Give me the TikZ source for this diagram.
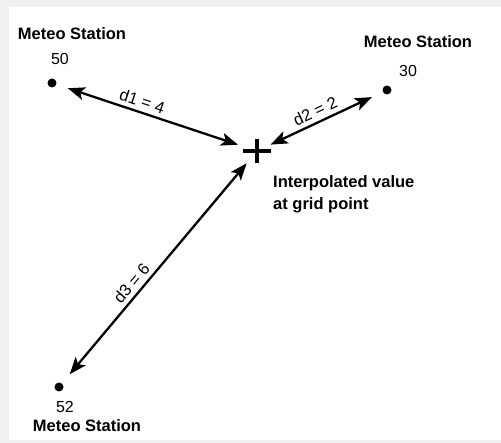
\documentclass[tikz,border=0pt]{standalone}
\usepackage{fontspec}
\setmainfont{Liberation Sans}
\usetikzlibrary{arrows.meta}

\begin{document}
\begin{tikzpicture}[x=1pt, y=-1pt,
  station/.style={circle, fill, inner sep=0pt, minimum size=9pt},
  title/.style={anchor=base, inner sep=0pt, font=\fontsize{16.5}{20}\selectfont\bfseries},
  value/.style={anchor=base, inner sep=0pt, font=\fontsize{16}{19}\selectfont},
  dist/.style={<->, >={Stealth[length=17pt, width=13pt, inset=4pt]}, line width=2.3pt,
    shorten <=12pt, shorten >=16pt},
  dlabel/.style={sloped, above=4pt, inner sep=0pt, font=\fontsize{16.5}{19}\selectfont}]
% frame
\useasboundingbox (0,0) rectangle (501,443);
\fill[black!6] (0,0) rectangle (501,443);
\fill[white] (9,7) rectangle (501,440);
% stations
\node[station] (s1) at (52,83) {};
\node[title] (t1) at (72,40) {Meteo Station};
\node[value] (v1) at (60,65) {50};
\node[station] (s2) at (387,90) {};
\node[title] (t2) at (418,48) {Meteo Station};
\node[value] (v2) at (408,77) {30};
\node[station] (s3) at (59,387) {};
\node[value] (v3) at (65,413) {52};
\node[title] (t3) at (87,432) {Meteo Station};
% grid point
\coordinate (gp) at (257,151);
\draw[line width=4.5pt] ([xshift=-14pt]gp) -- ([xshift=14pt]gp);
\draw[line width=4.5pt] ([yshift=-12pt]gp) -- ([yshift=12pt]gp);
\node[anchor=north west, inner sep=0pt, align=left,
  font=\fontsize{16.5}{22}\selectfont\bfseries] (note) at (273,175)
  {Interpolated value\\at grid point};
% distances
\draw[dist, shorten >=20pt] (s1) -- (gp) node[dlabel, pos=0.41] (d1) {d1 = 4};
\draw[dist, shorten <=15pt, shorten >=12pt] (gp) -- (s2) node[dlabel, pos=0.5] (d2) {d2 = 2};
\draw[dist] (s3) -- (gp) node[dlabel, pos=0.4] (d3) {d3 = 6};
\end{tikzpicture}
\end{document}
